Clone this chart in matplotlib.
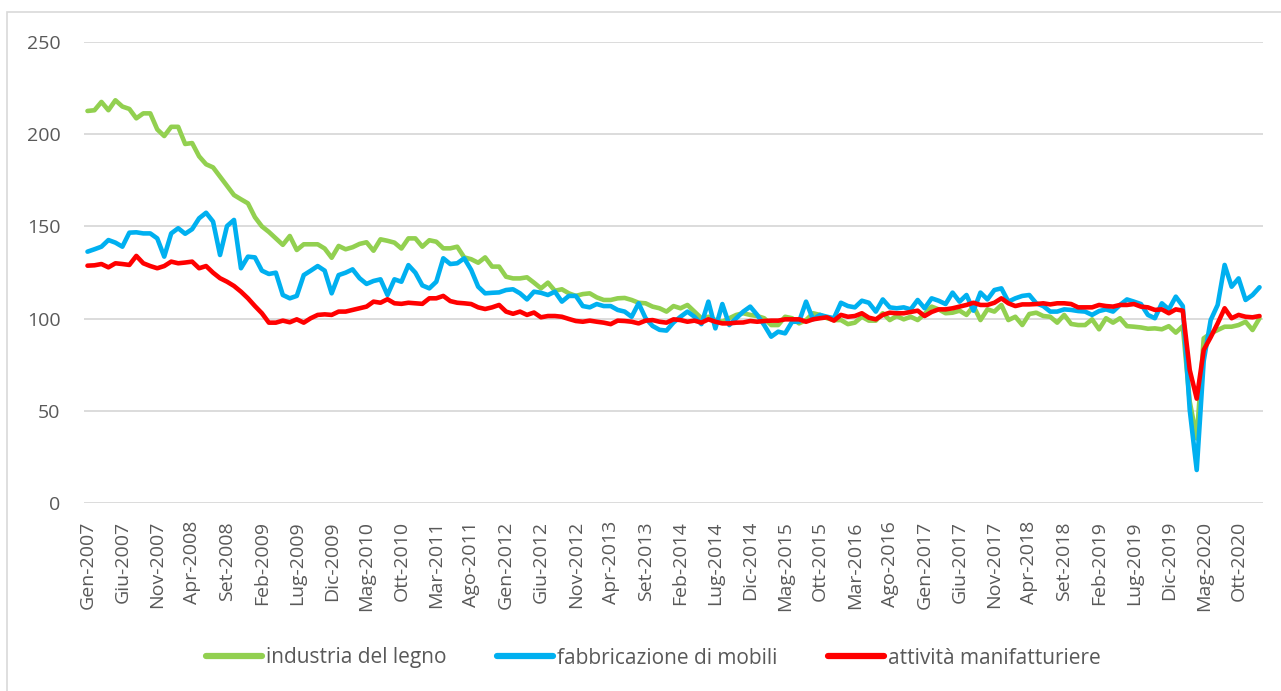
import matplotlib
matplotlib.use("Agg")
import matplotlib.pyplot as plt
from matplotlib.patches import Rectangle

# ---- data (monthly, Gen-2007 .. Gen-2021) ----
month_abbr = ['Gen', 'Feb', 'Mar', 'Apr', 'Mag', 'Giu', 'Lug', 'Ago', 'Set', 'Ott', 'Nov', 'Dic']
n_months = 169
categories = [f"{month_abbr[i % 12]}-{2007 + i // 12}" for i in range(n_months)]

legno = [
    212.6, 213.0, 217.5, 213.0, 218.4, 215.0, 213.7, 208.6, 211.3, 211.3,
    202.6, 199.0, 204.0, 204.0, 194.7, 195.2, 188.0, 183.7, 182.0, 177.0,
    172.0, 167.0, 164.7, 162.5, 155.0, 150.0, 147.0, 143.5, 140.0, 144.8,
    137.2, 140.3, 140.3, 140.3, 138.0, 133.0, 139.4, 137.6, 138.7, 140.5,
    141.4, 136.8, 143.0, 142.2, 141.2, 138.0, 143.5, 143.5, 139.0, 142.5,
    141.7, 138.1, 138.1, 139.0, 133.2, 132.2, 130.3, 133.2, 128.2, 128.2,
    122.7, 121.8, 121.8, 122.4, 119.5, 116.4, 119.5, 115.1, 115.9, 113.7,
    112.3, 113.3, 113.7, 111.5, 110.1, 110.1, 111.0, 111.2, 110.1, 108.6,
    108.3, 106.5, 105.6, 103.8, 106.8, 105.6, 107.4, 103.8, 100.2, 101.0,
    99.2, 98.3, 100.2, 102.0, 102.9, 102.0, 101.4, 100.2, 96.5, 96.5,
    101.0, 100.2, 97.4, 99.2, 102.9, 102.0, 100.2, 99.2, 99.2, 97.0,
    97.8, 101.0, 98.9, 98.9, 102.9, 99.2, 101.4, 99.6, 101.0, 99.2,
    102.5, 106.5, 105.0, 102.9, 103.2, 104.3, 102.0, 106.8, 99.2, 105.0,
    103.8, 107.4, 99.2, 101.0, 96.5, 102.5, 103.2, 101.4, 101.0, 97.8,
    102.0, 97.1, 96.5, 96.5, 99.6, 94.2, 100.2, 97.8, 100.2, 95.9,
    95.6, 95.2, 94.5, 94.7, 94.2, 95.9, 92.4, 95.9, 55.0, 35.0,
    89.3, 92.0, 93.8, 95.6, 95.6, 96.5, 98.3, 93.8, 100.2,
]

mobili = [
    136.3, 137.6, 139.0, 142.6, 141.2, 139.0, 146.6, 146.8, 146.2, 146.2,
    143.5, 133.6, 146.2, 149.0, 146.0, 148.5, 154.4, 157.4, 152.6, 134.5,
    150.2, 153.5, 127.3, 133.6, 133.2, 126.0, 124.2, 124.9, 112.8, 111.0,
    112.3, 123.6, 126.0, 128.5, 126.0, 113.7, 123.6, 124.9, 126.7, 121.9,
    118.8, 120.4, 121.3, 112.8, 121.3, 120.0, 129.0, 124.9, 118.0, 116.4,
    120.0, 132.7, 129.6, 130.0, 132.7, 126.4, 117.3, 113.7, 114.0, 114.2,
    115.5, 115.9, 113.7, 110.4, 114.6, 114.0, 112.8, 114.6, 109.2, 112.3,
    112.3, 106.8, 106.1, 107.9, 106.8, 106.8, 104.7, 103.8, 101.0, 108.3,
    100.2, 96.0, 93.9, 93.5, 97.9, 101.0, 103.8, 101.0, 97.0, 109.2,
    94.7, 107.9, 96.5, 100.2, 103.8, 106.5, 102.0, 96.5, 90.2, 92.9,
    92.0, 98.3, 98.3, 109.2, 99.6, 102.0, 101.0, 100.2, 108.6, 106.8,
    106.1, 109.7, 108.6, 103.8, 110.4, 106.1, 105.6, 106.1, 105.0, 110.1,
    105.6, 111.0, 109.7, 107.9, 114.1, 109.2, 112.8, 104.3, 114.1, 110.4,
    115.5, 116.4, 109.2, 111.0, 112.3, 112.8, 108.3, 106.8, 103.8, 103.8,
    105.0, 104.7, 104.1, 103.8, 102.0, 104.1, 105.0, 103.8, 107.4, 110.4,
    109.2, 107.9, 102.0, 100.2, 108.3, 105.0, 111.9, 106.8, 50.4, 17.9,
    77.0, 99.2, 107.4, 129.1, 117.3, 121.8, 110.1, 112.8, 117.0,
]

manifatturiere = [
    128.7, 128.9, 129.6, 127.8, 130.0, 129.6, 129.1, 134.0, 130.0, 128.5,
    127.3, 128.5, 130.9, 130.0, 130.4, 130.9, 127.3, 128.5, 124.9, 121.9,
    120.0, 117.7, 114.6, 111.0, 106.8, 102.9, 97.8, 97.8, 98.9, 98.0,
    99.6, 97.8, 100.2, 102.0, 102.3, 102.0, 103.8, 103.8, 104.7, 105.6,
    106.5, 109.2, 108.6, 110.5, 108.3, 108.0, 108.6, 108.3, 108.0, 111.0,
    111.0, 112.3, 109.5, 108.6, 108.3, 107.9, 106.1, 105.2, 106.1, 107.4,
    103.8, 102.6, 103.8, 102.0, 103.3, 100.7, 101.4, 101.4, 101.0, 99.8,
    98.7, 98.3, 98.9, 98.3, 97.8, 97.0, 98.9, 98.7, 98.3, 97.4,
    98.9, 99.2, 98.3, 97.8, 99.6, 99.2, 98.3, 98.9, 97.8, 99.6,
    98.3, 97.4, 97.4, 97.8, 97.9, 98.7, 98.3, 98.7, 98.9, 98.9,
    99.6, 99.6, 99.6, 98.3, 99.6, 100.2, 100.7, 98.9, 102.0, 101.0,
    101.4, 102.9, 100.5, 99.6, 102.0, 103.2, 102.9, 102.9, 103.6, 104.3,
    101.4, 103.6, 105.0, 105.0, 105.6, 106.5, 107.4, 108.6, 107.4, 107.4,
    108.6, 111.0, 108.3, 106.8, 107.7, 107.7, 107.9, 108.3, 107.7, 108.3,
    108.3, 107.9, 106.1, 106.1, 106.1, 107.4, 106.8, 106.5, 107.4, 107.4,
    107.9, 106.5, 106.1, 104.7, 105.0, 102.9, 105.0, 104.3, 72.1, 56.6,
    83.0, 89.9, 97.4, 105.6, 100.2, 102.0, 101.0, 100.7, 101.4,
]

series_names = ['industria del legno', 'fabbricazione di mobili', 'attività manifatturiere']
series_colors = ['#92D050', '#00B0F0', '#FF0000']
y_ticks = [0, 50, 100, 150, 200, 250]
tick_step = 5

# ---- figure ----
W, H = 1281, 691
fig = plt.figure(figsize=(W / 100, H / 100), dpi=100)
plt.rcParams['font.family'] = ['Open Sans', 'DejaVu Sans']
text_color = '#595959'
grid_color = '#D9D9D9'

# chart-area border (left and top visible)
fig.patches.append(Rectangle((7 / W, -0.05), 1.2, (H - 12) / H + 0.05,
                             transform=fig.transFigure, fill=False,
                             edgecolor=grid_color, linewidth=1.2, zorder=0))

left, right = 84 / W, 1263 / W
top, bottom = 1 - 42 / H, 1 - 503 / H
ax = fig.add_axes([left, bottom, right - left, top - bottom])

x = list(range(n_months))
for vals, name, col in zip([legno, mobili, manifatturiere], series_names, series_colors):
    ax.plot(x, vals, color=col, linewidth=3.3, label=name,
            solid_joinstyle='round', solid_capstyle='round', zorder=3)

ax.set_xlim(-0.5, n_months - 0.5)
ax.set_ylim(0, 250)
ax.set_yticks(y_ticks)
ax.set_yticklabels([str(v) for v in y_ticks])
tick_pos = list(range(0, n_months, tick_step))
ax.set_xticks(tick_pos)
ax.set_xticklabels([categories[i] for i in tick_pos], rotation=90, ha='center', va='top')

for v in y_ticks:
    ax.axhline(v, color=grid_color, linewidth=1.3, zorder=1)

for s in ax.spines.values():
    s.set_visible(False)
ax.tick_params(axis='x', length=0, pad=13, labelsize=14, labelcolor=text_color)
ax.tick_params(axis='y', length=0, pad=17, labelsize=14, labelcolor=text_color)

leg = fig.legend(loc='center', bbox_to_anchor=(0.51, 1 - 658 / H), ncol=3,
                 frameon=False, fontsize=15, handlelength=2.7, handletextpad=0.2,
                 columnspacing=2.4)
for t in leg.get_texts():
    t.set_color(text_color)
for l in leg.get_lines():
    l.set_linewidth(4.5)
    l.set_solid_capstyle('round')

fig.savefig('out.png', dpi=100)
